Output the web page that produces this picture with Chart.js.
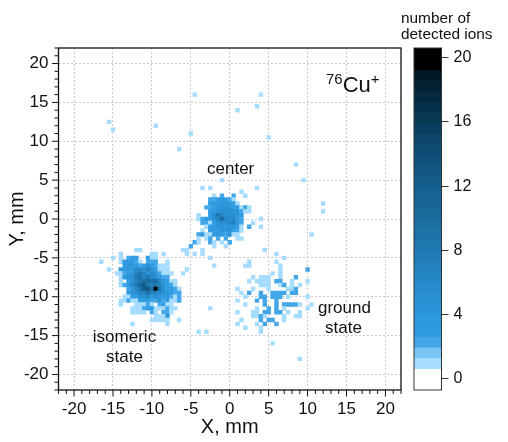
<!DOCTYPE html>
<html>
<head>
<meta charset="utf-8">
<title>76Cu+ ion image</title>
<script src="https://cdn.jsdelivr.net/npm/chart.js@4/dist/chart.umd.min.js"></script>
<style>
  html, body { margin: 0; padding: 0; background: #fff; }
  body { width: 508px; height: 442px; position: relative; overflow: hidden; font-family: "Liberation Sans", Arial, sans-serif; color: #111; }
  canvas { position: absolute; top: 0; }
  #map { left: 0; }
  #bar { left: 400px; }
  .note { position: absolute; font-size: 17px; line-height: 20px; text-align: center; white-space: nowrap; }
  sup { font-size: 15px; line-height: 0; }
</style>
</head>
<body>
<canvas id="map" width="508" height="442"></canvas>
<canvas id="bar" width="108" height="442"></canvas>
<div class="note" style="left:207px;top:159px">center</div>
<div class="note" style="left:92px;top:327px;width:65px">isomeric<br>state</div>
<div class="note" style="left:318px;top:298px;width:51px">ground<br>state</div>
<div class="note" style="left:326px;top:72px;font-size:22px;line-height:26px"><sup>76</sup>Cu<sup>+</sup></div>
<div class="note" style="left:401px;top:10px;font-size:15.4px;line-height:16px;text-align:left">number of<br>detected ions</div>
<script>
// counts per 0.5 mm bin, one string per row, base 36 digits (k = 20)
const isomericX0 = -16.5;
const isomericY = [-4, -4.5, -5, -5.5, -6, -6.5, -7, -7.5, -8, -8.5, -9, -9.5, -10, -10.5, -11, -11.5, -12, -12.5, -13, -13.5];
const isomericRows = [
  '00000000011000000000000',
  '00000100000001101000000',
  '00010102330031100000000',
  '10000133321022200100000',
  '00000034432343211100000',
  '00100344466575311100001',
  '00001123478656421110010',
  '00000135589786532200000',
  '000001035789a9a64311000',
  '0000012368bc87874321000',
  '00000002468cd9k95332100',
  '00000003457697765432200',
  '00000011335563543421200',
  '00000112113332242311200',
  '00000100011121023110000',
  '00000000111233111211000',
  '00000000111102102210000',
  '00000000000000111300000',
  '00000000000001111100100',
  '00000000100000000100000'
];

const centerX0 = -6;
const centerY = [3, 2.5, 2, 1.5, 1, 0.5, 0, -0.5, -1, -1.5, -2, -2.5, -3, -3.5, -4, -4.5];
const centerRows = [
  '000000001020020010000',
  '000000022333210000000',
  '000000033344331000000',
  '000000223444433121000',
  '000000033455544211000',
  '000010035865554300000',
  '0000123356a6563200001',
  '000002213555674200100',
  '000000133443443102001',
  '000001033344532100000',
  '000023113432411000000',
  '000010120202001100000',
  '000210021010200000000',
  '002000001001000000000',
  '110001000000000000000',
  '010101000000000000000'
];

const groundX0 = 1;
const groundY = [-4, -4.5, -5, -5.5, -6, -6.5, -7, -7.5, -8, -8.5, -9, -9.5, -10, -10.5, -11, -11.5, -12, -12.5, -13, -13.5, -14, -14.5];
const groundRows = [
  '00000001',
  '00000000001',
  '0000000000001',
  '00010000001',
  '001100000001',
  '0000000000010000002',
  '000000000101',
  '0000101110010002',
  '0001011110220010001',
  '00000011100120101',
  '1000100010000112',
  '0102002002222022',
  '0010002202220100001',
  '10000202002',
  '00100002002022221001',
  '0000010020201000001',
  '10001102202201001',
  '00001121000010011',
  '0100002022001',
  '10000102002',
  '0010001',
  '0000001'
];

// lone single-ion bins, x and y in mm
const strayX = [-15.5, -15, -9.5, -6.5, -5, -4.5, 4, 3.5, 1, 5, 8.5, 9.5, -1, -3.5, -2.5, 3.5, 1.5, 12, 12, 10.5, -2.5, -2, -2.5, -4, -3, 9, 5.5];
const strayY = [12.5, 11.5, 12, 9, 11, 16, 16, 14.5, 14, 10.5, 7, 5, 5, 4, 4, 4, 3.5, 2, 1, -2, -5, -6, -11.5, -14.5, -14.5, -18, -16];

const xTicks = [-20, -15, -10, -5, 0, 5, 10, 15, 20];
const yTicks = [-20, -15, -10, -5, 0, 5, 10, 15, 20];
const barTicks = [0, 4, 8, 12, 16, 20];

// colour bar bands: edges[i]..edges[i+1] uses barColours[i]
const barEdges = [-0.69, 0.6, 1.27, 1.93, 2.6, 3.26, 3.93, 4.59, 5.26, 5.92, 6.59, 7.25, 7.91, 8.58, 9.24, 9.91, 10.57, 11.24, 11.9, 12.57, 13.23, 13.9, 14.56, 15.22, 15.89, 16.55, 17.22, 17.88, 18.55, 19.21, 20.6];
const barColours = ['#ffffff', '#a6dcff', '#78c4f5', '#42a6e8', '#2f9ce2', '#2c98dd', '#2a95d9', '#2990d2', '#278ccc', '#2587c5', '#2382be', '#217db7', '#1f78b0', '#1d73a9', '#1c6fa3', '#1a6a9c', '#196696', '#176290', '#155d8a', '#135883', '#11527b', '#0f4c73', '#0d466b', '#0b3f61', '#093855', '#07304a', '#06293f', '#042133', '#021827', '#000000'];

function colourFor(count) {
  for (let i = 0; i < barColours.length; i++) {
    if (count < barEdges[i + 1]) return barColours[i];
  }
  return barColours[barColours.length - 1];
}

const cells = [];
function addRows(rows, ys, x0) {
  rows.forEach((row, r) => {
    [...row].forEach((c, k) => {
      const n = parseInt(c, 36);
      if (n > 0) cells.push({ x: x0 + k * 0.5, y: ys[r], v: n });
    });
  });
}
addRows(isomericRows, isomericY, isomericX0);
addRows(centerRows, centerY, centerX0);
addRows(groundRows, groundY, groundX0);
strayX.forEach((x, i) => cells.push({ x: x, y: strayY[i], v: 1 }));

const ink = '#111111';
const gridColour = '#cacaca';

// frame plus long and short tick marks, the axes have only one tick length
const framePlugin = {
  id: 'frame',
  afterDatasetsDraw(chart) {
    const { ctx, chartArea: a, scales: { x, y } } = chart;
    ctx.save();
    ctx.strokeStyle = ink;
    ctx.lineWidth = 1.3;
    ctx.strokeRect(a.left, a.top, a.right - a.left, a.bottom - a.top);
    ctx.beginPath();
    for (let v = -22; v <= 22; v++) {
      const len = v % 5 === 0 ? 6.5 : 4;
      ctx.moveTo(x.getPixelForValue(v), a.bottom);
      ctx.lineTo(x.getPixelForValue(v), a.bottom + len);
      ctx.moveTo(a.left, y.getPixelForValue(v));
      ctx.lineTo(a.left - len, y.getPixelForValue(v));
    }
    ctx.lineWidth = 1;
    ctx.stroke();
    ctx.restore();
  }
};

const barFrame = {
  id: 'barFrame',
  afterDatasetsDraw(chart) {
    const { ctx, chartArea: a } = chart;
    ctx.save();
    ctx.strokeStyle = '#333';
    ctx.lineWidth = 1;
    ctx.strokeRect(a.left, a.top, a.right - a.left, a.bottom - a.top);
    ctx.restore();
  }
};

const axisFont = { family: '"Liberation Sans", Arial, sans-serif', size: 17 };
const titleFont = { family: '"Liberation Sans", Arial, sans-serif', size: 20 };

new Chart(document.getElementById('map'), {
  type: 'scatter',
  data: {
    datasets: [{
      data: cells,
      pointStyle: 'rect',
      borderWidth: 0,
      backgroundColor: c => colourFor(c.raw.v),
      radius: c => (c.chart.scales.x.getPixelForValue(0.5) - c.chart.scales.x.getPixelForValue(0)) * 0.5 * Math.SQRT2 + 0.35
    }]
  },
  plugins: [framePlugin],
  options: {
    responsive: false,
    animation: false,
    events: [],
    layout: { padding: { left: 0, top: 48, right: 107, bottom: 0 } },
    plugins: { legend: { display: false }, tooltip: { enabled: false } },
    scales: {
      x: {
        type: 'linear',
        min: -22,
        max: 22,
        afterBuildTicks: s => { s.ticks = xTicks.map(v => ({ value: v })); },
        afterFit: s => { s.height = 52; },
        grid: { color: gridColour, lineWidth: 1, drawTicks: false },
        border: { dash: [2, 2], display: false },
        ticks: { color: ink, font: axisFont, padding: 9, maxRotation: 0, autoSkip: false },
        title: { display: true, text: 'X, mm', color: ink, font: titleFont, padding: { top: 0, bottom: 3 } }
      },
      y: {
        type: 'linear',
        min: -22,
        max: 22,
        afterBuildTicks: s => { s.ticks = yTicks.map(v => ({ value: v })); },
        afterFit: s => { s.width = 58.5; },
        grid: { color: gridColour, lineWidth: 1, drawTicks: false },
        border: { dash: [2, 2], display: false },
        ticks: { color: ink, font: axisFont, padding: 10, autoSkip: false },
        title: { display: true, text: 'Y, mm', color: ink, font: titleFont, padding: { top: 5, bottom: 0 } }
      }
    }
  }
});

new Chart(document.getElementById('bar'), {
  type: 'bar',
  data: {
    labels: [''],
    datasets: barColours.map((c, i) => ({
      data: [[barEdges[i], barEdges[i + 1]]],
      backgroundColor: c,
      borderWidth: 0,
      grouped: false,
      barPercentage: 1,
      categoryPercentage: 1
    }))
  },
  plugins: [barFrame],
  options: {
    responsive: false,
    animation: false,
    events: [],
    layout: { padding: { left: 14, top: 48, right: 0, bottom: 52 } },
    plugins: { legend: { display: false }, tooltip: { enabled: false } },
    scales: {
      x: { display: false },
      y: {
        position: 'right',
        min: -0.69,
        max: 20.6,
        afterBuildTicks: s => { s.ticks = barTicks.map(v => ({ value: v })); },
        afterFit: s => { s.width = 66.5; },
        grid: { drawOnChartArea: false, tickLength: 7, tickColor: '#333', tickWidth: 1 },
        border: { display: false },
        ticks: { color: ink, font: { family: axisFont.family, size: 16 }, padding: 5, autoSkip: false }
      }
    }
  }
});
</script>
</body>
</html>
